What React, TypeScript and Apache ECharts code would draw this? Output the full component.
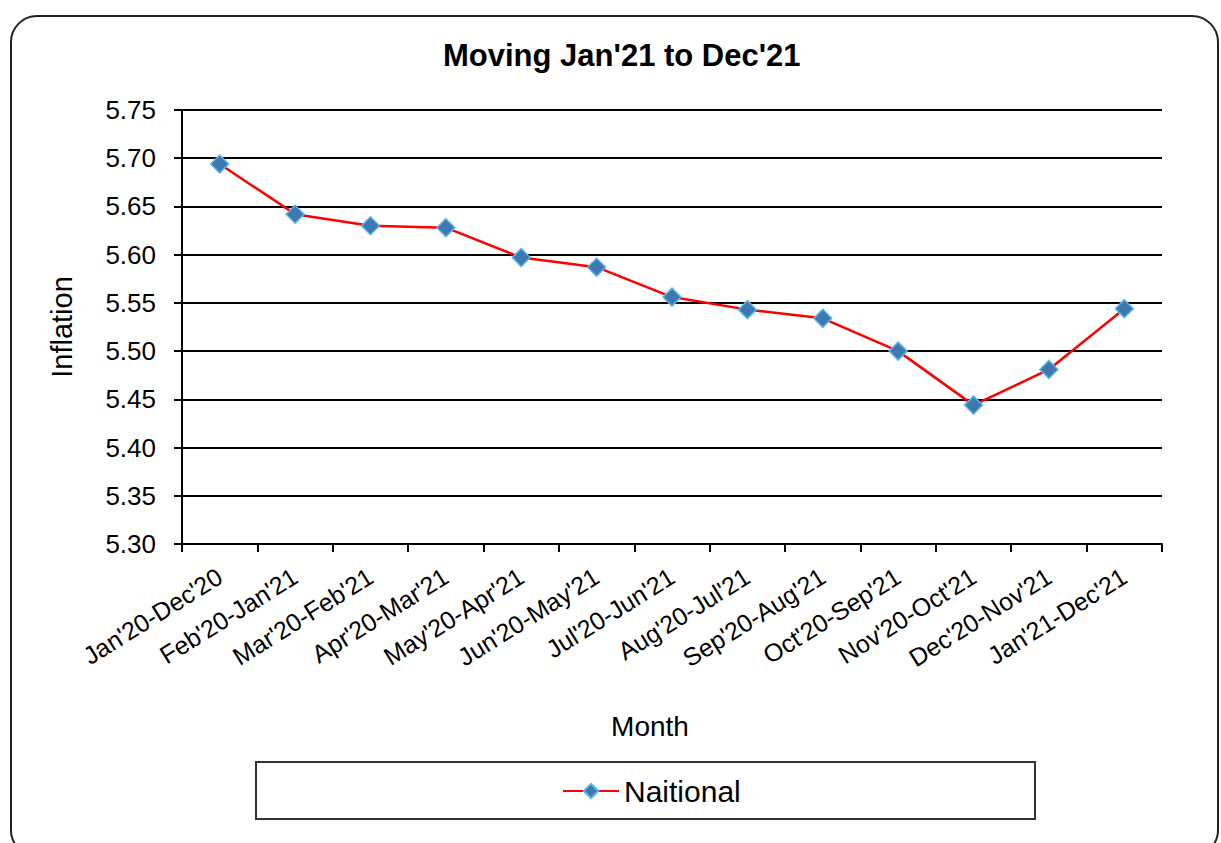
import React, { useEffect, useRef } from "react";
import * as echarts from "echarts";

const categories = [
  "Jan'20-Dec'20", "Feb'20-Jan'21", "Mar'20-Feb'21", "Apr'20-Mar'21", "May'20-Apr'21",
  "Jun'20-May'21", "Jul'20-Jun'21", "Aug'20-Jul'21", "Sep'20-Aug'21", "Oct'20-Sep'21",
  "Nov'20-Oct'21", "Dec'20-Nov'21", "Jan'21-Dec'21",
];
const nationalValues = [5.694, 5.642, 5.630, 5.628, 5.597, 5.587, 5.556, 5.543, 5.534, 5.500, 5.444, 5.481, 5.544];
const seriesName = "Naitional";
const titleText = "Moving Jan'21 to Dec'21";

export default function App() {
  const ref = useRef<HTMLDivElement>(null);
  useEffect(() => {
    if (!ref.current) return;
    const chart = echarts.init(ref.current, null, { renderer: "svg" });
    const font = "'Liberation Sans', Arial, sans-serif";
    chart.setOption({
      animation: false,
      backgroundColor: "#fff",
      textStyle: { fontFamily: font },
      title: {
        text: titleText,
        left: 438,
        top: 35,
        textStyle: { fontSize: 31, fontWeight: "bold", color: "#000", fontFamily: font },
      },
      graphic: [
        {
          type: "rect",
          shape: { x: 11, y: 16, width: 1207, height: 840, r: 26 },
          style: { fill: "none", stroke: "#222", lineWidth: 2 },
          z: 0,
        },
        {
          type: "rect",
          shape: { x: 256, y: 762, width: 779, height: 57 },
          style: { fill: "none", stroke: "#333", lineWidth: 2 },
          z: 0,
        },
      ],
      legend: {
        data: [seriesName],
        left: 557,
        top: 771,
        itemWidth: 56,
        itemHeight: 18,
        itemGap: 4,
        textStyle: { fontSize: 30, color: "#000", fontFamily: font },
      },
      grid: { left: 182, right: 59, top: 110, bottom: 299, containLabel: false },
      xAxis: {
        type: "category",
        data: categories,
        boundaryGap: true,
        name: "Month",
        nameLocation: "middle",
        nameGap: 168,
        nameTextStyle: { fontSize: 28, color: "#000", fontFamily: font, padding: [0, 44, 0, 0] },
        axisLine: { lineStyle: { color: "#000", width: 2 } },
        axisTick: { show: true, length: 8, lineStyle: { color: "#000", width: 2 } },
        axisLabel: { rotate: 32, fontSize: 25, color: "#000", margin: 30, fontFamily: font },
      },
      yAxis: {
        type: "value",
        min: 5.3,
        max: 5.75,
        interval: 0.05,
        name: "Inflation",
        nameLocation: "middle",
        nameGap: 106,
        nameRotate: 90,
        nameTextStyle: { fontSize: 29, color: "#000", fontFamily: font },
        axisLine: { show: true, lineStyle: { color: "#000", width: 2 } },
        axisTick: { show: true, length: 8, lineStyle: { color: "#000", width: 2 } },
        axisLabel: {
          fontSize: 26,
          color: "#000",
          margin: 26,
          fontFamily: font,
          formatter: (v: number) => v.toFixed(2),
        },
        splitLine: { show: true, lineStyle: { color: "#000", width: 2 } },
      },
      series: [
        {
          name: seriesName,
          type: "line",
          data: nationalValues,
          symbol: "diamond",
          symbolSize: 18,
          lineStyle: { color: "#ff0000", width: 2.5 },
          itemStyle: { color: "#3d78b0", borderColor: "#5ab4ea", borderWidth: 1.5 },
          z: 5,
        },
      ],
    });
    return () => chart.dispose();
  }, []);
  return (
    <div
      ref={ref}
      style={{ position: "absolute", left: 0, top: 0, width: 1221, height: 843 }}
    />
  );
}
